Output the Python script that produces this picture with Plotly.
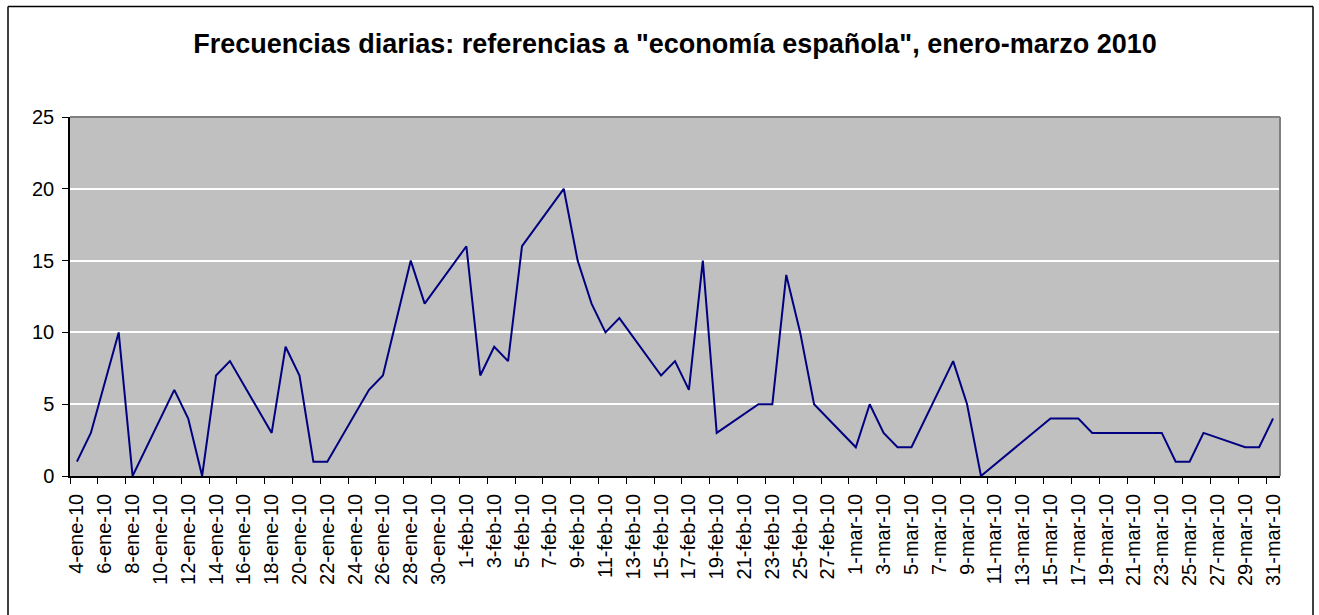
import plotly.graph_objects as go

# ---- data ----
dias = [
    "2010-01-04", "2010-01-05", "2010-01-07", "2010-01-08", "2010-01-11", "2010-01-12",
    "2010-01-13", "2010-01-14", "2010-01-15", "2010-01-18", "2010-01-19", "2010-01-20",
    "2010-01-21", "2010-01-22", "2010-01-25", "2010-01-26", "2010-01-28", "2010-01-29",
    "2010-02-01", "2010-02-02", "2010-02-03", "2010-02-04", "2010-02-05", "2010-02-08",
    "2010-02-09", "2010-02-10", "2010-02-11", "2010-02-12", "2010-02-15", "2010-02-16",
    "2010-02-17", "2010-02-18", "2010-02-19", "2010-02-22", "2010-02-23", "2010-02-24",
    "2010-02-25", "2010-02-26", "2010-03-01", "2010-03-02", "2010-03-03", "2010-03-04",
    "2010-03-05", "2010-03-08", "2010-03-09", "2010-03-10", "2010-03-15", "2010-03-16",
    "2010-03-17", "2010-03-18", "2010-03-19", "2010-03-22", "2010-03-23", "2010-03-24",
    "2010-03-25", "2010-03-26", "2010-03-29", "2010-03-30", "2010-03-31",
]
frecuencias = [
    1, 3, 10, 0, 6, 4,
    0, 7, 8, 3, 9, 7,
    1, 1, 6, 7, 15, 12,
    16, 7, 9, 8, 16, 20,
    15, 12, 10, 11, 7, 8,
    6, 15, 3, 5, 5, 14,
    10, 5, 2, 5, 3, 2,
    2, 8, 5, 0, 4, 4,
    4, 3, 3, 3, 3, 1,
    1, 3, 2, 2, 4,
]

tick_fechas = [
    "2010-01-04", "2010-01-06", "2010-01-08", "2010-01-10", "2010-01-12", "2010-01-14",
    "2010-01-16", "2010-01-18", "2010-01-20", "2010-01-22", "2010-01-24", "2010-01-26",
    "2010-01-28", "2010-01-30", "2010-02-01", "2010-02-03", "2010-02-05", "2010-02-07",
    "2010-02-09", "2010-02-11", "2010-02-13", "2010-02-15", "2010-02-17", "2010-02-19",
    "2010-02-21", "2010-02-23", "2010-02-25", "2010-02-27", "2010-03-01", "2010-03-03",
    "2010-03-05", "2010-03-07", "2010-03-09", "2010-03-11", "2010-03-13", "2010-03-15",
    "2010-03-17", "2010-03-19", "2010-03-21", "2010-03-23", "2010-03-25", "2010-03-27",
    "2010-03-29", "2010-03-31",
]
tick_textos = [
    "4-ene-10", "6-ene-10", "8-ene-10", "10-ene-10", "12-ene-10", "14-ene-10",
    "16-ene-10", "18-ene-10", "20-ene-10", "22-ene-10", "24-ene-10", "26-ene-10",
    "28-ene-10", "30-ene-10", "1-feb-10", "3-feb-10", "5-feb-10", "7-feb-10",
    "9-feb-10", "11-feb-10", "13-feb-10", "15-feb-10", "17-feb-10", "19-feb-10",
    "21-feb-10", "23-feb-10", "25-feb-10", "27-feb-10", "1-mar-10", "3-mar-10",
    "5-mar-10", "7-mar-10", "9-mar-10", "11-mar-10", "13-mar-10", "15-mar-10",
    "17-mar-10", "19-mar-10", "21-mar-10", "23-mar-10", "25-mar-10", "27-mar-10",
    "29-mar-10", "31-mar-10",
]

titulo = 'Frecuencias diarias: referencias a "economía española", enero-marzo 2010'

# ---- layout constants ----
W, H = 1319, 615
ML, MR, MT, MB = 70, 39, 117, 139
PW, PH = W - ML - MR, H - MT - MB

def px_to_paper_x(px):
    return (px - ML) / PW

def px_to_paper_y(py):
    return (H - MB - py) / PH

FONT = "Liberation Sans, Arial, Helvetica, sans-serif"

fig = go.Figure()
fig.add_trace(go.Scatter(
    x=dias, y=frecuencias, mode="lines",
    line=dict(color="#000080", width=2),
    showlegend=False,
))

bx0, bx1 = px_to_paper_x(8), px_to_paper_x(1313)
by_top, by_bot = px_to_paper_y(6.5), px_to_paper_y(616)
borde = dict(color="black", width=1.5)

fig.update_layout(
    width=W, height=H,
    margin=dict(l=ML, r=MR, t=MT, b=MB, pad=0),
    paper_bgcolor="white",
    plot_bgcolor="#C0C0C0",
    font=dict(family=FONT, color="black", size=20),
    title=dict(
        text="<b>" + titulo + "</b>",
        x=0.5, xref="paper", xanchor="center",
        y=1 - 44 / H, yanchor="middle",
        font=dict(family=FONT, size=27, color="black"),
    ),
    xaxis=dict(
        type="date",
        range=["2010-01-03 12:00", "2010-03-31 12:00"],
        tickmode="array", tickvals=tick_fechas, ticktext=tick_textos,
        tickangle=-90,
        ticks="", ticklabelstandoff=8,
        showgrid=False, zeroline=False,
        showline=True, linecolor="black", linewidth=1.5,
        tickfont=dict(size=20, family=FONT),
        minor=dict(
            ticks="outside", ticklen=6, tickcolor="black", tickwidth=1.2,
            tick0="2010-01-03 12:00", dtick=2 * 86400000, showgrid=False,
        ),
    ),
    yaxis=dict(
        range=[0, 25], tickmode="linear", tick0=0, dtick=5,
        ticks="outside", ticklen=6, tickcolor="black", tickwidth=1.2,
        showgrid=True, gridcolor="white", gridwidth=1.5,
        zeroline=False,
        showline=True, linecolor="black", linewidth=1.5,
        tickfont=dict(size=20, family=FONT),
        ticklabelstandoff=4,
    ),
    shapes=[
        # top and right edges of the plot area (gray)
        dict(type="line", xref="paper", yref="paper", x0=0, x1=1, y0=1, y1=1,
             line=dict(color="#808080", width=2), layer="above"),
        dict(type="line", xref="paper", yref="paper", x0=1, x1=1, y0=0, y1=1,
             line=dict(color="#808080", width=2), layer="above"),
        # outer chart border (left, top, right)
        dict(type="line", xref="paper", yref="paper", x0=bx0, x1=bx0, y0=by_bot, y1=by_top,
             line=borde, layer="above"),
        dict(type="line", xref="paper", yref="paper", x0=bx0, x1=bx1, y0=by_top, y1=by_top,
             line=borde, layer="above"),
        dict(type="line", xref="paper", yref="paper", x0=bx1, x1=bx1, y0=by_bot, y1=by_top,
             line=borde, layer="above"),
    ],
)

fig.write_html(
    "out.html",
    config={"displayModeBar": False},
    post_script="document.body.style.margin='0px';",
)
